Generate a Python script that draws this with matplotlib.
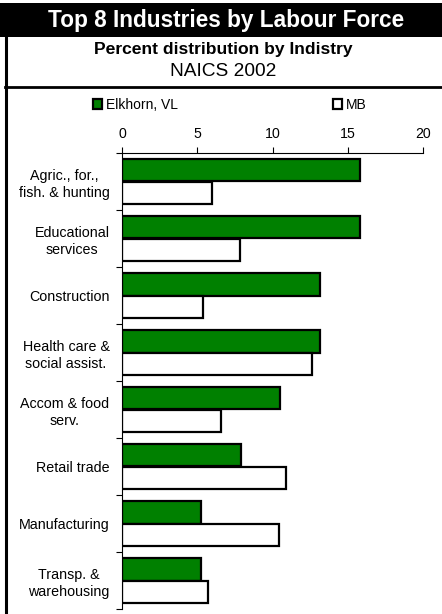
import numpy as np
import matplotlib
matplotlib.use('Agg')
import matplotlib.pyplot as plt
from matplotlib.patches import Rectangle
from matplotlib.lines import Line2D

plt.rcParams['font.family'] = ['Liberation Sans', 'DejaVu Sans']

industrias = ['Agric., for.,\nfish. & hunting', 'Educational\nservices', 'Construction',
              'Health care &\nsocial assist.', 'Accom & food\nserv.', 'Retail trade',
              'Manufacturing', 'Transp. &\nwarehousing']
elkhorn = [15.8, 15.8, 13.15, 13.15, 10.5, 7.9, 5.25, 5.25]
mb = [6.0, 7.85, 5.35, 12.6, 6.55, 10.9, 10.4, 5.7]
series_nomes = ['Elkhorn, VL', 'MB']
ticks_x = [0, 5, 10, 15, 20]

W, H = 442, 614
fig = plt.figure(figsize=(W / 100, H / 100), dpi=100)

# moldura / faixa do titulo
fig.add_artist(Rectangle((0, 1 - 37 / H), 1, 34 / H, transform=fig.transFigure,
                         facecolor='black', edgecolor='none'))
fig.add_artist(Line2D([6 / W, 6 / W], [0, 1 - 37 / H], transform=fig.transFigure,
                      color='black', lw=2.2))
fig.add_artist(Line2D([5 / W, 1], [1 - 86.5 / H, 1 - 86.5 / H], transform=fig.transFigure,
                      color='black', lw=2.0))

fig.text(226 / W, 1 - 20 / H, 'Top 8 Industries by Labour Force', color='white',
         fontsize=16.3, fontweight='bold', ha='center', va='center')
fig.text(223 / W, 1 - 49.5 / H, 'Percent distribution by Indistry', color='black',
         fontsize=12.6, fontweight='bold', ha='center', va='center')
fig.text(223 / W, 1 - 71 / H, 'NAICS 2002', color='black',
         fontsize=13.8, ha='center', va='center')

ax = fig.add_axes([122 / W, 1 - 609 / H, (423 - 122) / W, (609 - 153) / H])

y = np.arange(len(industrias))
h = 0.39
b1 = ax.barh(y - h / 2, elkhorn, height=h, color='#008000', edgecolor='black', linewidth=1.6)
b2 = ax.barh(y + h / 2, mb, height=h, color='white', edgecolor='black', linewidth=1.6)

ax.set_xlim(0, 20)
ax.set_ylim(len(industrias) - 0.5, -0.5)
ax.set_xticks(ticks_x)
ax.xaxis.tick_top()
ax.tick_params(axis='x', direction='out', length=4, width=0.8, pad=5, labelsize=10.2)
ax.set_yticks(y)
ax.set_yticklabels(industrias)
ax.set_yticks(np.arange(-0.5, len(industrias)), minor=True)
ax.tick_params(axis='y', which='major', length=0, pad=9, labelsize=10.3)
ax.tick_params(axis='y', which='minor', length=4, width=0.8, direction='out')
for t in ax.get_yticklabels():
    t.set_multialignment('center')
    t.set_linespacing(1.28)
for s in ['right', 'bottom']:
    ax.spines[s].set_visible(False)
for s in ['left', 'top']:
    ax.spines[s].set_linewidth(0.8)

fig.legend([b1, b2], series_nomes, ncol=2, loc='center', bbox_to_anchor=(230 / W, 1 - 105 / H),
           frameon=False, fontsize=10, handlelength=0.65, handleheight=0.65,
           handletextpad=0.25, columnspacing=11.2, borderpad=0)

plt.savefig('out.png', dpi=100)
